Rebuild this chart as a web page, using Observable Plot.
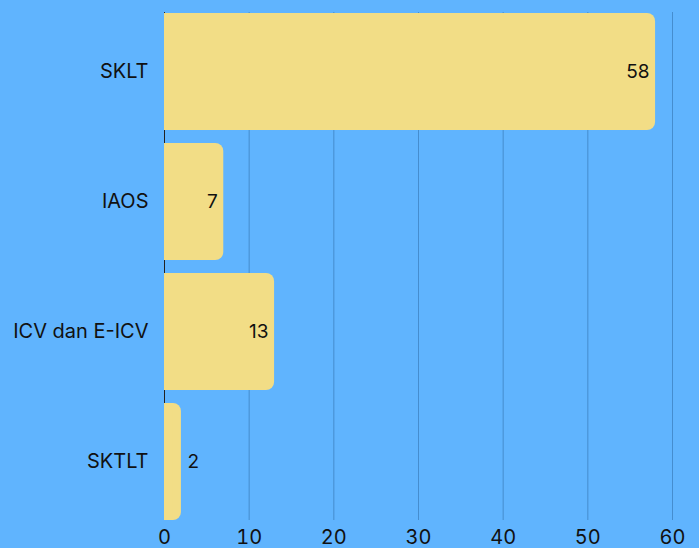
<!DOCTYPE html>
<html>
<head>
<meta charset="utf-8">
<script src="https://cdn.jsdelivr.net/npm/d3@7"></script>
<script src="https://cdn.jsdelivr.net/npm/@observablehq/plot@0.6"></script>
<style>
  html, body { margin: 0; padding: 0; background: #60b4fe; }
  #chart { width: 699px; height: 548px; }
  svg { display: block; }
</style>
</head>
<body>
<div id="chart"></div>
<script>
const categories = ["SKLT", "IAOS", "ICV dan E-ICV", "SKTLT"];
const values = [58, 7, 13, 2];
const xTicks = [0, 10, 20, 30, 40, 50, 60];

const data = categories.map((c, i) => ({category: c, value: values[i]}));
const inside = data.filter(d => d.value >= 5);
const outside = data.filter(d => d.value < 5);

const chart = Plot.plot({
  width: 699,
  height: 548,
  marginTop: 12,
  marginBottom: 28,
  marginLeft: 164,
  marginRight: 27,
  style: {
    background: "#60b4fe",
    fontFamily: "Inter, sans-serif",
    fontSize: "20px",
    color: "#111"
  },
  x: {domain: [0, 60], ticks: xTicks, label: null, tickSize: 0, tickPadding: 9},
  y: {domain: categories, label: null, tickSize: 0, tickPadding: 16, paddingInner: 0.1, paddingOuter: 0},
  marks: [
    Plot.ruleX(xTicks.filter(t => t > 0), {stroke: "#2f6ea8", strokeOpacity: 0.55, strokeWidth: 1}),
    Plot.ruleX([0], {stroke: "#222", strokeWidth: 1}),
    Plot.barX(data, {x: "value", y: "category", fill: "#f2dd86", rx: 8}),
    Plot.barX(data, {x1: 0, x2: d => d.value / 2, y: "category", fill: "#f2dd86"}),
    Plot.text(inside, {x: "value", y: "category", text: d => String(d.value), textAnchor: "end", dx: -6, fill: "#111", fontSize: 19}),
    Plot.text(outside, {x: "value", y: "category", text: d => String(d.value), textAnchor: "start", dx: 6, fill: "#111", fontSize: 19})
  ]
});
document.getElementById("chart").appendChild(chart);
</script>
</body>
</html>
